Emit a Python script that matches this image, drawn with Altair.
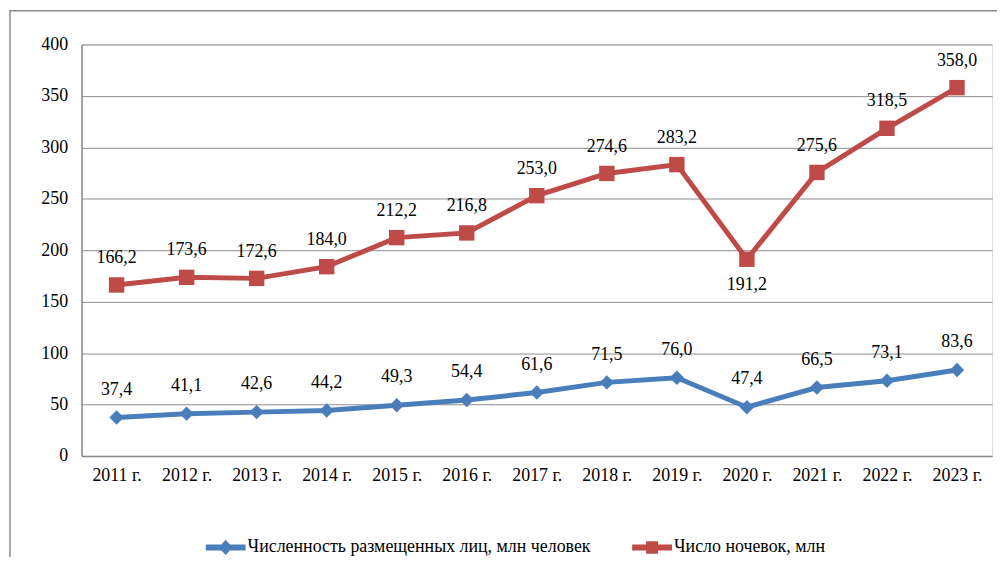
import altair as alt
import pandas as pd

years = ["2011 г.", "2012 г.", "2013 г.", "2014 г.", "2015 г.", "2016 г.", "2017 г.",
         "2018 г.", "2019 г.", "2020 г.", "2021 г.", "2022 г.", "2023 г."]
placed = [37.4, 41.1, 42.6, 44.2, 49.3, 54.4, 61.6, 71.5, 76.0, 47.4, 66.5, 73.1, 83.6]
nights = [166.2, 173.6, 172.6, 184.0, 212.2, 216.8, 253.0, 274.6, 283.2, 191.2, 275.6, 318.5, 358.0]
series_names = ["Численность размещенных лиц, млн человек", "Число ночевок, млн"]
y_ticks = [0, 50, 100, 150, 200, 250, 300, 350, 400]

BLUE = "#4A7EBB"
RED = "#BE4B48"
FONT = "Liberation Serif, Times New Roman, serif"
FS = 18

rows = []
for y, v in zip(years, placed):
    rows.append({"year": y, "value": v, "series": series_names[0]})
for y, v in zip(years, nights):
    rows.append({"year": y, "value": v, "series": series_names[1]})
df = pd.DataFrame(rows)

base = alt.Chart(df).transform_calculate(
    label="replace(format(datum.value, '.1f'), '.', ',')"
)

x_enc = alt.X("year:N", sort=years, title=None,
              scale=alt.Scale(paddingInner=0, paddingOuter=0.5),
              axis=alt.Axis(labelAngle=0, labelFont=FONT, labelFontSize=FS, labelColor="#000",
                            labelPadding=11, ticks=False, domainColor="#888", domainWidth=1.5,
                            grid=False))
y_enc = alt.Y("value:Q", title=None,
              scale=alt.Scale(domain=[0, 400], nice=False),
              axis=alt.Axis(values=y_ticks, labelFont=FONT, labelFontSize=FS, labelColor="#000",
                            labelPadding=14, ticks=False, domainColor="#888", domainWidth=1.5,
                            gridColor="#8C8C8C", gridWidth=1))

layers = []
for name, col, shape, size in [(series_names[0], BLUE, "diamond", 210),
                               (series_names[1], RED, "square", 240)]:
    sub = base.transform_filter(alt.datum.series == name)
    layers.append(sub.mark_line(color=col, strokeWidth=5).encode(x=x_enc, y=y_enc))
    layers.append(sub.mark_point(shape=shape, size=size, filled=True, color=col, opacity=1)
                  .encode(x=x_enc, y=y_enc))

text_common = dict(font=FONT, fontSize=FS, color="#000", baseline="middle", align="center")
blue_sub = base.transform_filter(alt.datum.series == series_names[0])
red_sub = base.transform_filter(alt.datum.series == series_names[1])
layers.append(blue_sub.mark_text(dy=-28, **text_common).encode(x=x_enc, y=y_enc, text="label:N"))
layers.append(red_sub.transform_filter(alt.datum.year != "2020 г.")
              .mark_text(dy=-27, **text_common).encode(x=x_enc, y=y_enc, text="label:N"))
layers.append(red_sub.transform_filter(alt.datum.year == "2020 г.")
              .mark_text(dy=26, **text_common).encode(x=x_enc, y=y_enc, text="label:N"))

diamond_line = ("M-2.86,-0.43 L-0.61,-0.43 L0,-1.1 L0.61,-0.43 L2.86,-0.43 L2.86,0.43 "
                "L0.61,0.43 L0,1.1 L-0.61,0.43 L-2.86,0.43 Z")
square_line = ("M-2.86,-0.43 L-0.86,-0.43 L-0.86,-0.9 L0.86,-0.9 L0.86,-0.43 L2.86,-0.43 "
               "L2.86,0.43 L0.86,0.43 L0.86,0.9 L-0.86,0.9 L-0.86,0.43 L-2.86,0.43 Z")

legend_cfg = alt.Legend(title=None, orient="none", legendX=136, legendY=497, direction="horizontal",
                        labelFont=FONT, labelFontSize=FS, labelColor="#000", symbolSize=196,
                        symbolStrokeWidth=0, labelOffset=13, columnPadding=40, symbolOpacity=1,
                        labelLimit=0)
legend_layer = base.transform_filter("false").mark_point(filled=True, opacity=1).encode(
    x=x_enc, y=y_enc,
    color=alt.Color("series:N", scale=alt.Scale(domain=series_names, range=[BLUE, RED]),
                    legend=legend_cfg),
    shape=alt.Shape("series:N", scale=alt.Scale(domain=series_names, range=[diamond_line, square_line]),
                    legend=legend_cfg),
)
layers.append(legend_layer)

frame = alt.Chart(pd.DataFrame({"a": [0]})).mark_rect(fill=None, stroke="#8A8A8A", strokeWidth=1.5).encode(
    x=alt.value(-72), x2=alt.value(1000), y=alt.value(-34), y2=alt.value(700)
)

chart = alt.layer(frame, *layers).properties(
    width=916, height=414,
    autosize=alt.AutoSizeParams(type="none"),
    padding={"left": 74, "top": 35, "right": 5, "bottom": 100},
).configure_view(stroke=None).configure(background="white")

chart.save("out.html", embed_options={"renderer": "svg", "actions": False})
